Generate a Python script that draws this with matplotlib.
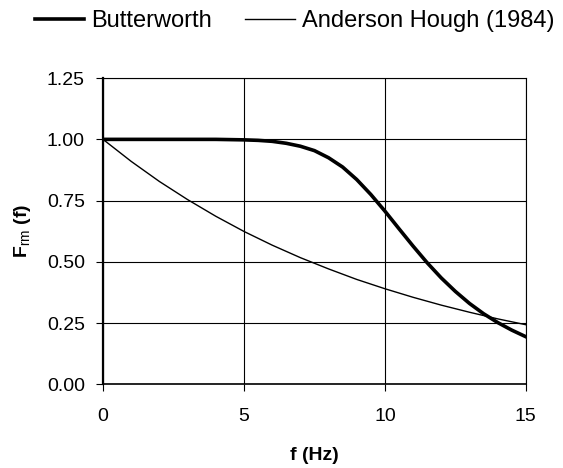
import matplotlib
matplotlib.use("Agg")
import matplotlib.pyplot as plt

plt.rcParams['font.family'] = ['Liberation Sans', 'DejaVu Sans']
plt.rcParams['mathtext.fontset'] = 'custom'
plt.rcParams['mathtext.rm'] = 'Liberation Sans'
plt.rcParams['mathtext.bf'] = 'Liberation Sans:bold'

# values
f_bw = [0, 1, 2, 3, 4, 5, 5.5, 6, 6.5, 7, 7.5, 8, 8.5, 9, 9.5, 10,
        10.5, 11, 11.5, 12, 12.5, 13, 13.5, 14, 14.5, 15]
butterworth = [1.0, 1.0, 1.0, 1.0, 1.0, 0.998, 0.996, 0.992, 0.984, 0.972,
               0.954, 0.925, 0.887, 0.836, 0.775, 0.707, 0.635, 0.564,
               0.496, 0.434, 0.379, 0.330, 0.288, 0.252, 0.221, 0.194]

f_ah = [0, 1, 2, 3, 4, 5, 6, 7, 8, 9, 10, 11, 12, 13, 14, 15]
anderson = [1.0, 0.910, 0.828, 0.754, 0.686, 0.624, 0.568, 0.517,
            0.471, 0.428, 0.390, 0.355, 0.323, 0.294, 0.267, 0.243]

xticks = [0, 5, 10, 15]
yticks = [0.00, 0.25, 0.50, 0.75, 1.00, 1.25]

fig = plt.figure(figsize=(5.63, 4.68), dpi=100)
ax = fig.add_axes([0.183, 0.179, 0.751, 0.654])

ax.plot(f_bw, butterworth, color='black', lw=2.6, label='Butterworth', zorder=3)
ax.plot(f_ah, anderson, color='black', lw=1.0, label='Anderson Hough (1984)', zorder=3)

ax.set_xlim(0, 15)
ax.set_ylim(0, 1.25)
ax.set_xticks(xticks)
ax.set_yticks(yticks)
ax.set_yticklabels([f"{v:.2f}" for v in yticks])
ax.grid(True, color='black', lw=0.8)
ax.tick_params(labelsize=14, length=5, width=0.8, direction='out')
ax.tick_params(axis='x', pad=12)
ax.tick_params(axis='y', pad=8)

for side in ['top', 'right']:
    ax.spines[side].set_linewidth(0.8)
ax.spines['left'].set_linewidth(1.6)
ax.spines['bottom'].set_linewidth(1.2)

ax.set_xlabel('f (Hz)', fontsize=14, fontweight='bold', labelpad=16)
ax.set_ylabel(r'F$_{\mathrm{rm}}$ (f)', fontsize=14, fontweight='bold', labelpad=10)

fig.legend(loc='center left', bbox_to_anchor=(0.062, 0.955), ncol=2, frameon=False,
           fontsize=17, handlelength=2.1, handletextpad=0.3, columnspacing=1.4,
           borderpad=0, borderaxespad=0)

fig.savefig('out.png', dpi=100)
